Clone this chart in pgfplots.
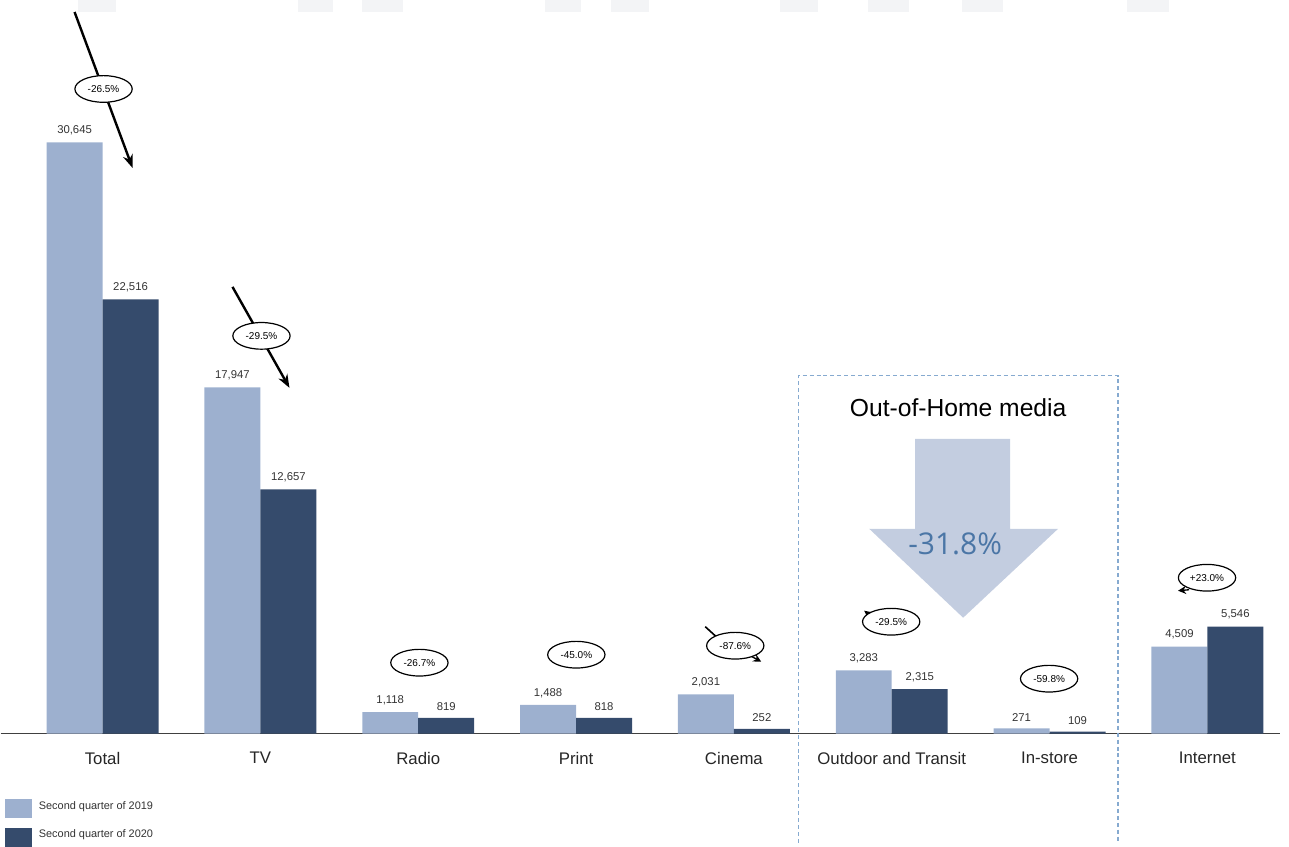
\documentclass[border=0pt]{standalone}
\usepackage{pgfplots}
\pgfplotsset{compat=1.18}
\usepackage{pgfplotstable}
\usepackage{fontspec}
\setmainfont{Liberation Sans}
\newfontfamily\headfont{Open Sans}
\usetikzlibrary{arrows.meta,shapes.geometric}

\definecolor{q19}{HTML}{9DB0CF}
\definecolor{q20}{HTML}{354B6C}
\definecolor{ohfill}{HTML}{C3CDE0}
\definecolor{ohtext}{HTML}{4B76A6}
\definecolor{ohline}{HTML}{86AAD0}
\definecolor{wm}{HTML}{F3F4F6}

% Advertising spend by medium, second quarter 2019 vs 2020
\pgfplotstableread{
idx q2019 q2020
0 30645 22516
1 17947 12657
2 1118 819
3 1488 818
4 2031 252
5 3283 2315
6 271 109
7 4509 5546
}\adspend

\begin{document}
\begin{tikzpicture}
% page frame and faint header blocks (1 unit = 1 px)
\begin{scope}[x=0.75pt,y=-0.75pt]
  \path (0,0) rectangle (1289,843);
  \foreach \a/\b in {77/115,298/333,362/403,545/581,611/649,780/818,868/909,962/1003,1127/1169}
    \fill[wm] (\a,0) rectangle (\b,12);
\end{scope}

\begin{axis}[
  at={(0pt,-550.5pt)}, anchor=south west,
  scale only axis, width=960pt, height=550.5pt,
  xmin=-0.646, xmax=7.46, ymin=0, ymax=38031,
  ybar=0pt, bar width=42pt,
  axis x line=bottom, axis y line=none,
  axis line style={-, draw=black!75, line width=0.9pt},
  xtick={0,...,7},
  xticklabels={Total,TV,Radio,Print,Cinema,{Outdoor and Transit},In-store,Internet},
  major tick length=0pt,
  xticklabel style={font=\fontsize{12.6}{15}\selectfont, text=black!85, yshift=-10.5pt},
  nodes near coords,
  every node near coord/.append style={font=\fontsize{8.5}{10}\selectfont, text=black!80, yshift=2pt},
  /pgf/number format/1000 sep={,},
  /pgf/number format/assume math mode=true,
  clip=false,
]
\addplot[fill=q19, draw=none] table[x=idx, y=q2019] {\adspend};
\addplot[fill=q20, draw=none] table[x=idx, y=q2020] {\adspend};
\end{axis}

\begin{scope}[x=0.75pt,y=-0.75pt]
  % Out-of-Home group frame
  \draw[ohline, line width=0.9pt, dash pattern=on 3pt off 2.2pt]
    (798,843) -- (798,376) -- (1118,376) -- (1118,843);
  \node[font=\fontsize{18.5}{22}\selectfont] at (958,408) {Out-of-Home media};
  \fill[ohfill] (915,439) -- (1010,439) -- (1010,529) -- (1058,529) -- (963,618)
    -- (869,529) -- (915,529) -- cycle;
  \node[text=ohtext, font=\headfont\fontsize{22.5}{26}\selectfont] at (955,544) {-31.8\%};

  % change arrows
  \draw[line width=1.8pt, -{Stealth[length=10pt,width=7.5pt]}] (74,12) -- (132,168);
  \draw[line width=1.8pt, -{Stealth[length=10pt,width=7.5pt]}] (232,287) -- (289,388);
  \draw[line width=1.2pt] (705,627) -- (716,637);
  \draw[line width=1pt, -{Stealth[length=6pt,width=6pt]}] (750,656) -- (761,662);
  \draw[line width=1pt, -{Stealth[length=6pt,width=6pt]}] (873,618) -- (864,611);
  \draw[line width=1pt, -{Stealth[length=6pt,width=6pt]}] (1189,590) -- (1178,591);

  % change labels
  \tikzset{pct/.style={draw, ellipse, fill=white, line width=0.9pt, inner sep=0pt,
      minimum width=43pt, minimum height=20pt, font=\fontsize{7.5}{9}\selectfont}}
  \node[pct] at (103,89) {-26.5\%};
  \node[pct] at (261,336) {-29.5\%};
  \node[pct] at (419,663) {-26.7\%};
  \node[pct] at (576,655) {-45.0\%};
  \node[pct] at (735,646) {-87.6\%};
  \node[pct] at (891,622) {-29.5\%};
  \node[pct] at (1049,679) {-59.8\%};
  \node[pct] at (1207,578) {+23.0\%};

  % legend
  \fill[q19] (4,799) rectangle (31,818);
  \fill[q20] (4,828) rectangle (31,847);
  \node[anchor=west, inner sep=0pt, font=\fontsize{8.2}{10}\selectfont, text=black!80] at (38,807) {Second quarter of 2019};
  \node[anchor=west, inner sep=0pt, font=\fontsize{8.2}{10}\selectfont, text=black!80] at (38,835) {Second quarter of 2020};
\end{scope}
\end{tikzpicture}
\end{document}
